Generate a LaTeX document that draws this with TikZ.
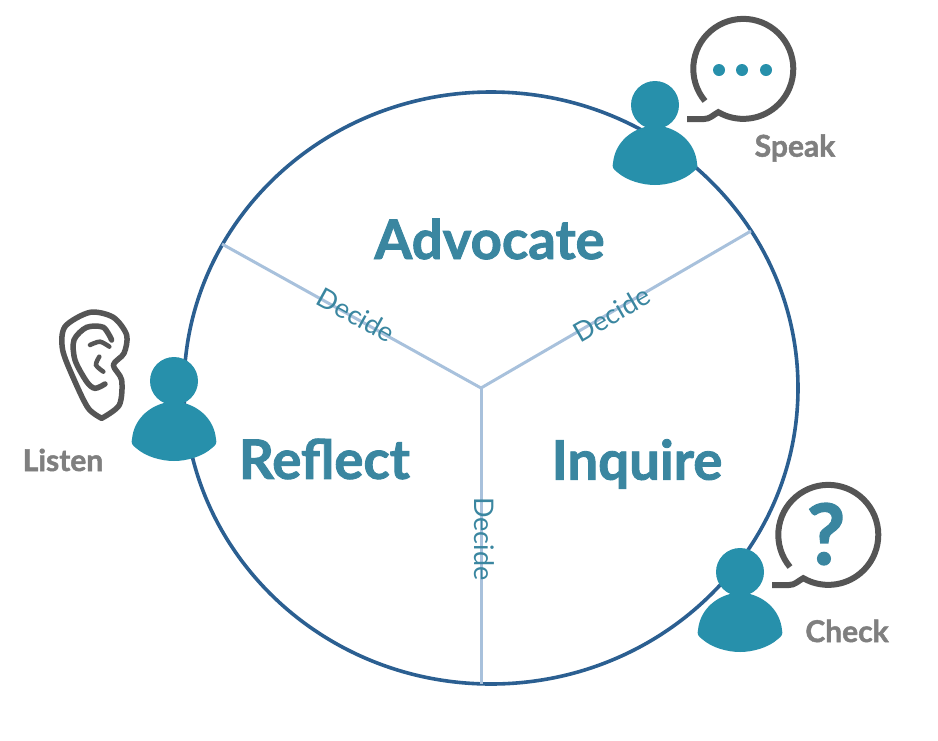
\documentclass[tikz,border=0pt]{standalone}
\usepackage{fontspec}
\setmainfont{Lato}[BoldFeatures={FakeBold=1.6}]
\definecolor{ringc}{HTML}{2B5F91}
\definecolor{spokec}{HTML}{A8C1DC}
\definecolor{headc}{HTML}{3A86A0}
\definecolor{personc}{HTML}{2790AB}
\definecolor{iconc}{HTML}{555555}
\definecolor{greyc}{HTML}{7F7F7F}
\tikzset{
  heading/.style={text=headc,font=\fontsize{54.5}{54.5}\selectfont\bfseries,inner sep=0pt},
  decide/.style={text=headc,font=\fontsize{27}{27}\selectfont,inner sep=0pt},
  action/.style={text=greyc,font=\fontsize{30}{30}\selectfont\bfseries,inner sep=0pt},
  spoke/.style={draw=spokec,line width=3pt},
  iconline/.style={draw=iconc,line width=6pt},
  person/.pic={
    \fill[personc] (0,0) circle[radius=24];
    \fill[personc] (-42,58) .. controls (-40,38) and (-25,26) .. (-10,22) -- (10,22)
      .. controls (25,26) and (40,38) .. (42,58)
      .. controls (43,62) and (42,64) .. (38,67)
      .. controls (28,76) and (12,80) .. (0,80)
      .. controls (-12,80) and (-28,76) .. (-38,67)
      .. controls (-42,64) and (-43,62) .. (-42,58) -- cycle;
  },
  bubble/.pic={
    \draw[iconline] (-37,31) arc[start angle=140,end angle=480,radius=50]
      .. controls (-29,45) and (-32,49) .. (-38,49) -- (-55,49);
  }
}
\begin{document}
\begin{tikzpicture}[x=1pt,y=-1pt]
\useasboundingbox (0,0) rectangle (938,740);
\draw[ringc,line width=3.6pt] (491,388) ellipse[x radius=307,y radius=296];
\coordinate (hub) at (481,388);
\coordinate (sa) at (222,244);
\coordinate (sb) at (751,231);
\coordinate (sc) at (481,684);
\draw[spoke] (hub) -- (sa);
\draw[spoke] (hub) -- (sb);
\draw[spoke] (hub) -- (sc);
\node[decide,rotate=-29] (d1) at (356,315) {Decide};
\node[decide,rotate=30] (d2) at (612,314) {Decide};
\node[decide,rotate=-90] (d3) at (484,539) {Decide};
\node[heading] (adv) at (489.5,239) {Advocate};
\node[heading] (ref) at (324.5,459) {Reflect};
\node[heading] (inq) at (637,464) {Inquire};
\pic at (655,105) {person};
\pic at (174,381) {person};
\pic at (740,572) {person};
\pic at (742,70) {bubble};
\pic at (827,536) {bubble};
\fill[personc] (719,70) circle[radius=6] (742,70) circle[radius=6] (766,70) circle[radius=6];
\node[text=headc,font=\fontsize{84}{84}\selectfont\bfseries,inner sep=0pt] (q) at (826,534) {?};
\begin{scope}[shift={(10,290)},x=0.3333pt,y=-0.3333pt]
\draw[iconc,line width=5.5pt,line cap=round,line join=round] plot[smooth] coordinates {(275,385) (235,355) (195,275) (158,180) (165,110) (240,67) (310,82) (350,135) (342,190) (310,225) (335,270) (328,345) (275,385)};
\draw[iconc,line width=5.5pt,line cap=round] plot[smooth] coordinates {(285,282) (255,295) (230,275) (195,210) (192,150) (230,112) (280,112) (305,150)};
\draw[iconc,line width=4.5pt,line cap=round] plot[smooth] coordinates {(240,165) (270,155) (298,170)};
\draw[iconc,line width=4.5pt,line cap=round] plot[smooth] coordinates {(268,200) (258,225) (280,245)};
\end{scope}
\node[action] (speak) at (795,148) {Speak};
\node[action] (listen) at (63,460) {Listen};
\node[action] (check) at (847,631) {Check};
\end{tikzpicture}
\end{document}
